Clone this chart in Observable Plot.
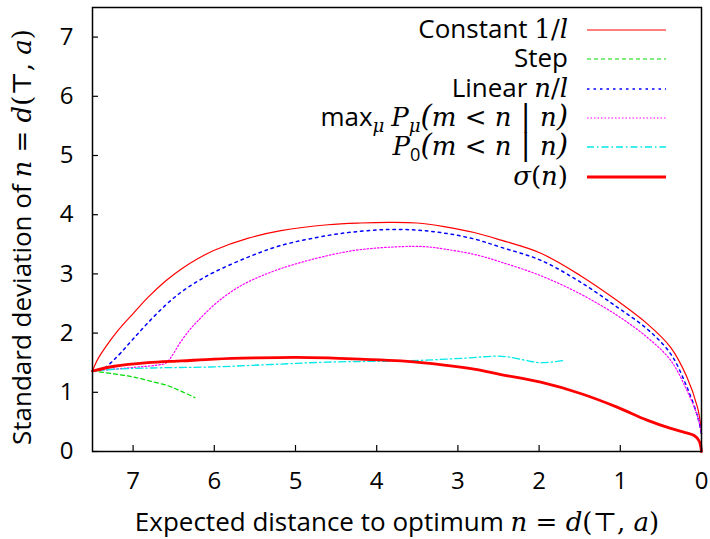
<!DOCTYPE html>
<html><head><meta charset="utf-8">
<script src="https://cdn.jsdelivr.net/npm/d3@7"></script>
<script src="https://cdn.jsdelivr.net/npm/@observablehq/plot@0.6"></script>
<style>body{margin:0;background:#fff}</style>
</head><body><div id="chart"></div>
<script>
// ---- data ----
const constX = [7.5, 7.45, 7.4, 7.3, 7.2, 7.1, 7.0, 6.82, 6.6, 6.41, 6.2, 6.0, 5.59, 5.18, 4.6, 4.2, 3.85, 3.5, 3.17, 2.8, 2.47, 1.98, 1.49, 1.04, 0.67, 0.38, 0.18, 0.05, 0.01, 0.0];
const constY = [1.36, 1.52, 1.64, 1.84, 2.02, 2.18, 2.33, 2.60, 2.88, 3.08, 3.26, 3.40, 3.60, 3.73, 3.83, 3.86, 3.87, 3.86, 3.80, 3.70, 3.57, 3.35, 2.97, 2.55, 2.16, 1.76, 1.26, 0.75, 0.45, 0.30];

const stepX = [7.5, 7.23, 7.0, 6.82, 6.57, 6.41, 6.24];
const stepY = [1.36, 1.31, 1.26, 1.20, 1.11, 1.02, 0.91];

const linX = [7.5, 7.4, 7.33, 7.25, 7.15, 7.0, 6.82, 6.61, 6.41, 6.2, 6.0, 5.59, 5.18, 4.6, 4.2, 3.85, 3.5, 3.17, 2.8, 2.47, 1.98, 1.49, 1.04, 0.67, 0.38, 0.18, 0.05, 0.0];
const linY = [1.36, 1.38, 1.43, 1.53, 1.67, 1.90, 2.17, 2.46, 2.69, 2.88, 3.03, 3.28, 3.48, 3.65, 3.72, 3.75, 3.74, 3.69, 3.59, 3.45, 3.23, 2.86, 2.44, 2.07, 1.65, 1.09, 0.60, 0.30];

const maxX = [7.5, 7.0, 6.7, 6.6, 6.55, 6.5, 6.41, 6.3, 6.2, 6.0, 5.8, 5.59, 5.18, 4.6, 4.2, 3.7, 3.4, 3.17, 2.8, 2.47, 1.98, 1.49, 1.04, 0.67, 0.38, 0.18, 0.05, 0.0];
const maxY = [1.36, 1.42, 1.46, 1.49, 1.56, 1.66, 1.86, 2.06, 2.21, 2.48, 2.69, 2.86, 3.09, 3.31, 3.41, 3.46, 3.46, 3.42, 3.33, 3.20, 2.97, 2.66, 2.30, 1.93, 1.54, 1.03, 0.60, 0.30];

const p0X = [7.5, 7.23, 6.8, 6.0, 5.3, 4.6, 3.7, 3.29, 2.88, 2.55, 2.4, 2.27, 2.1, 1.98, 1.85, 1.69];
const p0Y = [1.36, 1.39, 1.41, 1.43, 1.47, 1.51, 1.53, 1.55, 1.58, 1.61, 1.60, 1.57, 1.52, 1.50, 1.51, 1.54];

const sigX = [7.5, 7.23, 6.82, 6.4, 6.0, 5.5, 5.0, 4.6, 4.2, 3.7, 3.17, 2.8, 2.47, 1.98, 1.49, 1.04, 0.67, 0.38, 0.2, 0.09, 0.03, 0.0];
const sigY = [1.36, 1.44, 1.50, 1.53, 1.56, 1.58, 1.59, 1.58, 1.56, 1.53, 1.46, 1.39, 1.30, 1.17, 0.98, 0.75, 0.53, 0.39, 0.32, 0.27, 0.18, 0.0];

const xTicks = [0, 1, 2, 3, 4, 5, 6, 7];
const yTicks = [0, 1, 2, 3, 4, 5, 6, 7];

const SANS = "'Open Sans', 'DejaVu Sans', sans-serif";
const SERIF = "'DejaVu Serif', 'Liberation Serif', serif";

const series = [
  {key: "const", xs: constX, ys: constY, stroke: "#ff0000", width: 1.2, dash: null},
  {key: "step",  xs: stepX,  ys: stepY,  stroke: "#00dd00", width: 1.2, dash: "4,3"},
  {key: "lin",   xs: linX,   ys: linY,   stroke: "#0000ff", width: 1.5, dash: "2.5,4"},
  {key: "max",   xs: maxX,   ys: maxY,   stroke: "#ff00ff", width: 1.2, dash: "1.5,2"},
  {key: "p0",    xs: p0X,    ys: p0Y,    stroke: "#00e8e8", width: 1.3, dash: "7,3,1.5,3"},
  {key: "sig",   xs: sigX,   ys: sigY,   stroke: "#ff0000", width: 2.8, dash: null}
];
const rows = s => s.xs.map((x, i) => ({x, y: s.ys[i]}));

const chart = Plot.plot({
  width: 710, height: 539,
  marginLeft: 92, marginRight: 9, marginTop: 7, marginBottom: 88,
  style: {fontFamily: SANS, fontSize: "24px", background: "white", color: "black"},
  x: {domain: [7.5, 0]},
  y: {domain: [0, 7.5]},
  marks: [
    ...series.map(s => Plot.line(rows(s), {x: "x", y: "y", stroke: s.stroke, strokeWidth: s.width, strokeDasharray: s.dash, curve: "catmull-rom"})),
    Plot.frame({stroke: "black", strokeWidth: 1.5}),
    Plot.axisX({ticks: xTicks, tickSize: 6, dy: -6, tickFormat: () => "", label: null, strokeWidth: 1.2}),
    Plot.axisX({ticks: xTicks, tickSize: 0, tickPadding: 20, fontSize: 24, label: null}),
    Plot.axisY({ticks: yTicks, tickSize: 6, dx: 6, tickFormat: () => "", label: null, strokeWidth: 1.2}),
    Plot.axisY({ticks: yTicks, tickSize: 0, tickPadding: 19, fontSize: 24, label: null})
  ]
});
document.getElementById("chart").appendChild(chart);

// ---- rich text helper ----
const svg = d3.select(chart);
function richText(g, parts, attrs) {
  const t = g.append("text");
  for (const [k, v] of Object.entries(attrs)) t.attr(k, v);
  let shift = 0;
  for (const [str, kind] of parts) {
    const sp = t.append("tspan").text(str);
    let target = 0;
    if (kind.includes("sub")) target = 6;
    if (target !== shift) { sp.attr("dy", target - shift); shift = target; }
    if (kind.includes("i")) sp.attr("font-family", SERIF).attr("font-style", "italic");
    else if (kind.includes("r")) sp.attr("font-family", SERIF);
    else sp.attr("font-family", SANS);
    if (kind.includes("sub")) sp.attr("font-size", "0.7em");
    if (kind.includes("big")) sp.attr("font-size", "1.12em");
  }
  return t;
}

// axis titles
richText(svg, [["Expected distance to optimum ", "s"], ["n", "i"], [" = ", "r"], ["d", "i"], ["(⊤, ", "r"], ["a", "i"], [")", "r"]],
  {x: 397, y: 531, "text-anchor": "middle", "font-size": 26, fill: "black"});
richText(svg, [["Standard deviation of ", "s"], ["n", "i"], [" = ", "r"], ["d", "i"], ["(⊤, ", "r"], ["a", "i"], [")", "r"]],
  {transform: "translate(31,237) rotate(-90)", "text-anchor": "middle", "font-size": 26, fill: "black"});

// legend
const legendRows = [
  [["Constant ", "s"], ["1/", "r"], ["l", "i"]],
  [["Step", "s"]],
  [["Linear ", "s"], ["n", "i"], ["/", "r"], ["l", "i"]],
  [["max", "s"], ["μ", "isub"], [" ", "s"], ["P", "i"], ["μ", "isub"], ["(", "rbig"], ["m", "i"], [" < ", "r"], ["n", "i"], [" | ", "rbig"], ["n", "i"], [")", "rbig"]],
  [["P", "i"], ["0", "ssub"], ["(", "rbig"], ["m", "i"], [" < ", "r"], ["n", "i"], [" | ", "rbig"], ["n", "i"], [")", "rbig"]],
  [["σ", "i"], ["(", "r"], ["n", "i"], [")", "r"]]
];
const legendY = [30, 59, 89, 118, 147, 177];
const lg = svg.append("g");
series.forEach((s, i) => {
  richText(lg, legendRows[i], {x: 568, y: legendY[i] + 8, "text-anchor": "end", "font-size": 26, fill: "black"});
  lg.append("line").attr("x1", 587).attr("x2", 666).attr("y1", legendY[i]).attr("y2", legendY[i])
    .attr("stroke", s.stroke).attr("stroke-width", s.width).attr("stroke-dasharray", s.dash);
});
</script>
</body></html>
